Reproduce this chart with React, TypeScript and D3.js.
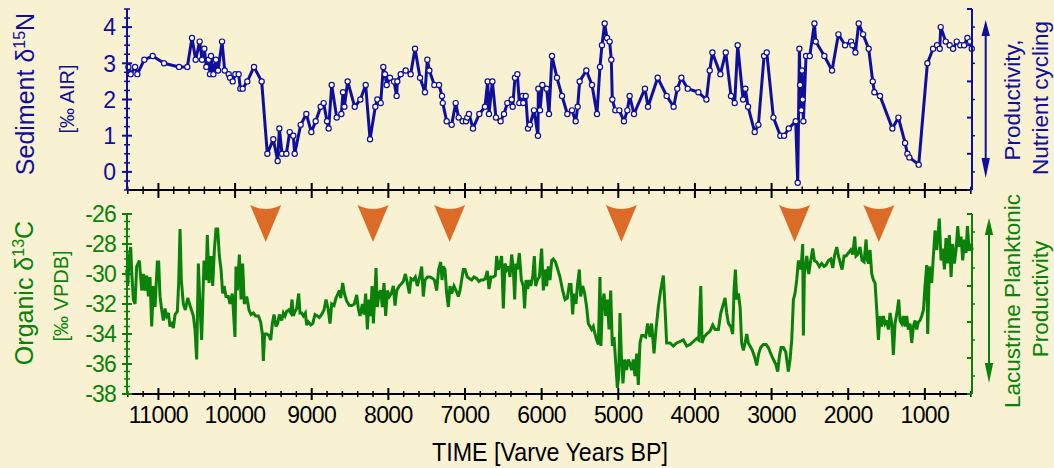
import React from 'react';
import * as d3 from 'd3';

// sediment d15N [permil AIR], [varve year BP, value]
const nitrogen: [number, number][] = [
  [11392, 2.9], [11362, 2.7], [11305, 2.9], [11275, 2.7], [11184, 3.1], [11075, 3.2], [10927, 3.0], [10731, 2.9],
  [10623, 2.9], [10562, 3.7], [10514, 3.1], [10462, 3.6], [10431, 3.1], [10401, 3.4], [10375, 2.9], [10344, 3.1],
  [10327, 2.7], [10314, 3.2], [10283, 2.7], [10249, 3.1], [10222, 2.8], [10170, 3.6], [10135, 2.8], [10083, 2.7],
  [10066, 2.6], [10031, 2.5], [9996, 2.7], [9953, 2.7], [9931, 2.3], [9901, 2.3], [9840, 2.5], [9753, 2.9],
  [9653, 2.5], [9579, 0.5], [9501, 0.9], [9444, 0.3], [9422, 1.2], [9387, 0.5], [9331, 0.5], [9287, 1.1],
  [9240, 1.0], [9222, 0.5], [9144, 1.3], [9070, 1.6], [9005, 1.1], [8948, 1.4], [8883, 1.8], [8844, 1.9],
  [8800, 1.4], [8779, 1.2], [8739, 2.4], [8674, 1.5], [8613, 1.6], [8592, 2.2], [8574, 1.8], [8531, 2.5],
  [8439, 1.8], [8365, 2.0], [8296, 2.4], [8239, 0.9], [8170, 1.8], [8144, 2.0], [8100, 1.9], [8066, 2.9],
  [8044, 2.7], [8022, 2.4], [7979, 2.6], [7926, 2.5], [7892, 2.1], [7883, 2.5], [7839, 2.7], [7774, 2.8],
  [7709, 2.7], [7652, 3.4], [7587, 2.6], [7522, 2.2], [7491, 3.1], [7465, 2.8], [7400, 2.4], [7339, 2.4],
  [7300, 2.1], [7290, 1.9], [7239, 1.4], [7174, 1.3], [7122, 1.9], [7083, 1.5], [7030, 1.4], [6987, 1.4],
  [6970, 1.5], [6948, 1.6], [6896, 1.2], [6813, 1.6], [6739, 1.8], [6704, 2.5], [6687, 1.6], [6643, 2.5],
  [6596, 1.5], [6535, 1.4], [6491, 1.6], [6448, 1.9], [6391, 2.0], [6378, 1.8], [6348, 2.6], [6317, 2.7],
  [6291, 1.9], [6250, 2.1], [6240, 1.9], [6208, 2.1], [6178, 1.2], [6152, 1.3], [6100, 1.7], [6048, 1.0],
  [6043, 2.3], [6021, 1.7], [5991, 2.4], [5935, 2.3], [5904, 1.6], [5865, 3.2], [5800, 2.6], [5734, 2.1],
  [5665, 1.6], [5604, 1.7], [5556, 1.4], [5530, 1.8], [5504, 2.5], [5417, 2.8], [5343, 2.4], [5278, 1.6],
  [5239, 2.9], [5213, 3.5], [5178, 4.1], [5147, 3.7], [5113, 3.6], [5091, 3.1], [5078, 2.0], [5039, 1.7],
  [4986, 1.7], [4926, 1.4], [4882, 1.7], [4852, 2.1], [4795, 1.6], [4652, 2.3], [4612, 1.8], [4486, 2.6],
  [4369, 2.1], [4278, 1.8], [4230, 2.3], [4177, 2.6], [4094, 2.3], [3955, 2.2], [3850, 2.0], [3807, 2.8],
  [3772, 3.3], [3668, 2.7], [3598, 3.3], [3529, 2.1], [3481, 1.9], [3442, 3.5], [3372, 2.0], [3342, 2.3],
  [3307, 1.8], [3220, 1.1], [3172, 1.3], [3098, 3.2], [3063, 3.3], [2976, 1.5], [2885, 1.0], [2837, 1.0],
  [2776, 1.2], [2685, 1.4], [2659, -0.3], [2637, 3.4], [2628, 2.4], [2611, 1.7], [2602, 2.8], [2594, 2.0],
  [2585, 1.4], [2550, 3.2], [2502, 3.2], [2441, 4.1], [2424, 3.6], [2311, 3.2], [2211, 2.8], [2128, 3.8],
  [2041, 3.5], [1963, 3.6], [1946, 3.5], [1906, 3.3], [1863, 4.1], [1806, 3.8], [1733, 3.4], [1680, 2.5],
  [1659, 2.2], [1585, 2.1], [1424, 1.2], [1345, 1.5], [1258, 0.8], [1228, 0.5], [1202, 0.4], [1080, 0.2],
  [967, 3.0], [893, 3.4], [841, 3.5], [806, 3.4], [793, 4.0], [728, 3.6], [676, 3.5], [632, 3.4],
  [584, 3.6], [537, 3.5], [489, 3.5], [445, 3.7], [411, 3.6], [388, 3.4],
];

// organic d13C [permil VPDB], [varve year BP, value]
const carbon: [number, number][] = [
  [11414, -29.7], [11401, -30.8], [11379, -28.8], [11362, -28.2], [11345, -30.2], [11327, -31.7], [11305, -32.0],
  [11284, -29.5], [11249, -29.1], [11218, -31.1], [11197, -30.0], [11175, -31.1], [11153, -30.1], [11131, -31.5],
  [11110, -30.2], [11088, -33.5], [11066, -30.8], [11044, -32.2], [11014, -29.2], [10997, -29.2], [10979, -31.5],
  [10957, -32.4], [10936, -33.1], [10914, -32.3], [10892, -32.8], [10870, -32.6], [10849, -33.5], [10827, -33.2],
  [10805, -33.6], [10783, -32.7], [10753, -32.5], [10736, -30.6], [10718, -27.0], [10701, -30.4], [10675, -32.0],
  [10649, -32.4], [10618, -31.6], [10588, -32.1], [10544, -32.8], [10523, -33.7], [10501, -35.7], [10479, -29.3],
  [10457, -32.2], [10436, -34.4], [10405, -29.1], [10379, -30.4], [10362, -27.4], [10340, -30.6], [10314, -28.8],
  [10292, -30.8], [10270, -28.4], [10249, -27.0], [10227, -27.0], [10205, -28.8], [10183, -29.7], [10162, -31.3],
  [10144, -30.8], [10118, -31.5], [10088, -31.5], [10066, -32.0], [10036, -31.3], [10018, -32.8], [10001, -34.2],
  [9988, -29.5], [9970, -31.1], [9944, -28.7], [9922, -31.7], [9901, -29.3], [9879, -32.0], [9848, -31.5],
  [9818, -32.4], [9792, -32.7], [9761, -32.6], [9731, -32.8], [9696, -32.8], [9666, -33.2], [9644, -34.0],
  [9631, -35.8], [9614, -34.0], [9587, -34.0], [9557, -34.1], [9535, -34.4], [9514, -33.3], [9492, -32.7],
  [9466, -33.5], [9444, -33.3], [9422, -32.7], [9392, -33.1], [9370, -32.6], [9348, -32.8], [9327, -32.5],
  [9300, -32.4], [9274, -32.6], [9257, -31.7], [9240, -32.8], [9218, -32.5], [9196, -32.3], [9170, -31.3],
  [9153, -32.6], [9131, -32.6], [9109, -32.8], [9083, -32.6], [9066, -33.4], [9044, -33.2], [9013, -33.4],
  [8987, -33.3], [8957, -32.7], [8926, -32.8], [8900, -32.9], [8870, -32.7], [8840, -32.4], [8813, -31.7],
  [8787, -32.3], [8761, -33.3], [8739, -32.0], [8709, -32.1], [8683, -31.6], [8657, -31.3], [8639, -31.1],
  [8622, -31.6], [8596, -30.6], [8574, -31.3], [8544, -31.8], [8509, -32.1], [8479, -32.1], [8444, -32.0],
  [8413, -31.4], [8392, -32.3], [8370, -32.8], [8339, -32.0], [8318, -32.7], [8296, -31.3], [8274, -33.7],
  [8252, -31.7], [8231, -32.8], [8213, -30.8], [8196, -33.3], [8178, -31.7], [8161, -29.6], [8144, -32.2],
  [8122, -31.3], [8100, -31.1], [8078, -32.2], [8057, -30.6], [8035, -32.8], [8013, -31.1], [7987, -31.5],
  [7961, -31.3], [7935, -30.8], [7913, -32.1], [7891, -31.1], [7857, -30.8], [7839, -30.7], [7805, -30.5],
  [7778, -30.0], [7752, -30.6], [7726, -31.3], [7705, -30.3], [7674, -30.4], [7648, -30.2], [7622, -30.8],
  [7596, -30.3], [7565, -29.5], [7544, -31.5], [7522, -30.4], [7491, -30.2], [7457, -30.2], [7422, -30.3],
  [7400, -30.4], [7370, -31.1], [7344, -29.7], [7317, -29.2], [7300, -30.4], [7283, -29.5], [7261, -29.7],
  [7239, -31.3], [7217, -32.2], [7196, -30.8], [7174, -31.3], [7144, -30.8], [7117, -31.1], [7087, -31.5],
  [7065, -31.1], [7044, -30.4], [7022, -29.7], [7000, -29.7], [6970, -30.2], [6943, -30.3], [6913, -30.4],
  [6883, -30.2], [6848, -30.3], [6817, -30.5], [6791, -30.4], [6761, -30.4], [6735, -30.3], [6709, -29.8],
  [6687, -31.0], [6661, -30.2], [6630, -30.2], [6604, -30.1], [6587, -28.8], [6565, -29.7], [6543, -29.3],
  [6522, -28.8], [6500, -32.3], [6478, -29.3], [6456, -29.7], [6435, -29.5], [6413, -30.2], [6391, -28.7],
  [6369, -29.7], [6352, -31.7], [6335, -29.3], [6317, -29.7], [6291, -28.6], [6265, -30.4], [6239, -30.8],
  [6222, -32.3], [6204, -30.4], [6182, -31.0], [6161, -30.4], [6143, -30.8], [6117, -30.2], [6095, -28.8],
  [6078, -30.8], [6056, -30.4], [6030, -30.2], [6000, -28.3], [5978, -31.1], [5956, -29.7], [5935, -30.8],
  [5913, -29.5], [5891, -30.4], [5869, -29.1], [5848, -29.0], [5821, -29.2], [5795, -29.6], [5761, -30.2],
  [5726, -31.1], [5695, -31.7], [5665, -31.6], [5639, -30.7], [5617, -30.7], [5595, -32.7], [5578, -31.3],
  [5552, -32.0], [5534, -30.8], [5508, -29.7], [5491, -31.5], [5465, -30.8], [5439, -31.3], [5413, -32.2],
  [5391, -33.3], [5369, -33.5], [5347, -33.7], [5326, -33.5], [5304, -34.0], [5282, -34.4], [5260, -34.7],
  [5239, -30.2], [5226, -34.8], [5208, -32.0], [5186, -31.3], [5165, -32.8], [5143, -31.7], [5121, -33.7],
  [5099, -31.1], [5078, -34.8], [5056, -34.2], [5034, -35.9], [5012, -37.6], [4995, -36.8], [4978, -32.6],
  [4960, -35.5], [4939, -37.3], [4917, -35.7], [4891, -36.4], [4869, -35.7], [4847, -36.0], [4826, -36.4],
  [4804, -35.7], [4782, -36.8], [4760, -35.3], [4739, -37.4], [4717, -34.6], [4695, -34.1], [4673, -34.1],
  [4643, -34.2], [4617, -33.3], [4586, -34.2], [4565, -33.3], [4534, -35.3], [4508, -33.7], [4478, -32.2],
  [4447, -31.1], [4412, -30.1], [4391, -32.2], [4369, -34.6], [4325, -34.6], [4282, -34.8], [4238, -34.6],
  [4195, -34.5], [4151, -34.4], [4107, -34.8], [4064, -34.7], [4020, -34.5], [3977, -34.3], [3951, -34.4],
  [3924, -30.8], [3907, -34.6], [3881, -34.2], [3846, -34.0], [3803, -33.8], [3768, -33.4], [3737, -33.7],
  [3694, -33.7], [3663, -32.6], [3629, -32.0], [3607, -31.6], [3585, -32.6], [3563, -33.3], [3533, -33.5],
  [3507, -34.0], [3490, -31.1], [3472, -29.7], [3455, -31.7], [3433, -31.3], [3411, -32.2], [3390, -34.6],
  [3368, -35.1], [3346, -34.6], [3324, -34.0], [3303, -34.6], [3281, -34.8], [3250, -35.1], [3224, -35.5],
  [3194, -36.1], [3168, -35.3], [3142, -34.9], [3107, -34.7], [3072, -34.7], [3042, -34.9], [3011, -35.3],
  [2976, -35.7], [2946, -36.0], [2920, -36.5], [2898, -35.5], [2876, -34.9], [2846, -34.9], [2815, -35.2],
  [2781, -36.5], [2759, -35.7], [2737, -34.4], [2715, -31.7], [2694, -31.3], [2672, -30.4], [2650, -29.1],
  [2628, -29.7], [2611, -29.3], [2594, -28.0], [2585, -34.1], [2572, -30.0], [2541, -28.8], [2515, -30.0],
  [2489, -29.1], [2463, -28.3], [2441, -29.1], [2411, -29.2], [2376, -29.5], [2346, -29.3], [2315, -29.5],
  [2289, -29.4], [2259, -29.1], [2228, -29.0], [2202, -29.6], [2180, -28.8], [2150, -28.2], [2128, -28.8],
  [2107, -29.2], [2080, -29.7], [2054, -28.8], [2028, -28.8], [1998, -28.6], [1967, -28.4], [1941, -28.7],
  [1915, -27.5], [1898, -28.8], [1876, -28.7], [1846, -28.2], [1819, -29.1], [1793, -29.2], [1767, -27.7],
  [1750, -29.1], [1733, -29.3], [1715, -28.4], [1693, -30.0], [1672, -30.4], [1650, -30.6], [1628, -32.4],
  [1606, -34.4], [1585, -32.8], [1563, -33.5], [1541, -32.8], [1519, -33.3], [1498, -33.1], [1476, -33.7],
  [1454, -32.6], [1432, -33.3], [1411, -35.4], [1389, -33.3], [1359, -32.4], [1341, -31.7], [1324, -33.1],
  [1302, -33.3], [1280, -32.8], [1259, -33.5], [1237, -32.8], [1215, -33.7], [1193, -33.3], [1172, -34.6],
  [1150, -33.5], [1128, -33.1], [1106, -33.7], [1085, -33.2], [1063, -33.1], [1041, -32.8], [1019, -32.4],
  [998, -30.8], [976, -29.4], [963, -34.0], [941, -29.5], [911, -30.6], [889, -28.8], [867, -27.1],
  [845, -28.4], [811, -26.3], [789, -29.1], [767, -28.3], [745, -29.7], [724, -27.6], [702, -29.3],
  [680, -27.4], [658, -30.2], [637, -28.0], [615, -29.3], [593, -28.4], [571, -26.8], [550, -28.2],
  [528, -27.5], [506, -29.1], [484, -27.7], [463, -28.6], [445, -26.8], [423, -28.4], [402, -28.0],
  [380, -28.4],
];

const eventYears = [9600, 8200, 7200, 4960, 2700, 1600];
const yearTicks = [11000, 10000, 9000, 8000, 7000, 6000, 5000, 4000, 3000, 2000, 1000];
const nitrogenTicks = [0, 1, 2, 3, 4];
const carbonTicks = [-26, -28, -30, -32, -34, -36, -38];

const BG = '#f8f2d2';
const BLUE = '#0f0f9e';
const GREEN = '#0a820a';
const ORANGE = '#dc6b27';
const FONT = '"Liberation Sans", Arial, sans-serif';

export default function App() {
  const x = d3.scaleLinear().domain([11410, 385]).range([127, 972]);
  const yN = d3.scaleLinear().domain([-0.5, 4.5]).range([190, 9]);
  const yC = d3.scaleLinear().domain([-38, -26]).range([394, 214]);
  const rN = d3.scaleLinear().domain([0, 10]).range([190, 9]);
  const rC = d3.scaleLinear().domain([0, 10]).range([394, 214]);

  const lineN = d3.line<[number, number]>().x(d => x(d[0])).y(d => yN(d[1]));
  const lineC = d3.line<[number, number]>().x(d => x(d[0])).y(d => yC(d[1]));

  const minorYears = d3.range(400, 11401, 200).filter(v => v % 1000 !== 0);
  const minorN = d3.range(-0.5, 4.51, 0.25).filter(v => Math.abs(v - Math.round(v)) > 0.01);
  const minorC = d3.range(-38, -25.9, 0.5).filter(v => Math.abs(v / 2 - Math.round(v / 2)) > 0.01);
  const rightTicks = d3.range(0, 11);

  return (
    <svg width={1054} height={468} style={{ position: 'fixed', left: 0, top: 0, display: 'block' }} fontFamily={FONT}>
      <rect width={1054} height={468} fill={BG} />

      {/* orange event markers */}
      {eventYears.map(e => {
        const cx = x(e);
        return <path key={e} d={`M${cx - 15.5},205 Q${cx},213 ${cx + 15.5},205 L${cx},242 Z`} fill={ORANGE} />;
      })}

      {/* data */}
      <path d={lineC(carbon) || ''} fill="none" stroke={GREEN} strokeWidth={3} strokeLinejoin="miter" strokeMiterlimit={3} />
      <path d={lineN(nitrogen) || ''} fill="none" stroke={BLUE} strokeWidth={3} strokeLinejoin="round" />
      {nitrogen.map((d, i) => (
        <circle key={i} cx={x(d[0])} cy={yN(d[1])} r={2.6} fill="#fff" stroke={BLUE} strokeWidth={1.2} />
      ))}

      {/* time axes */}
      <line x1={127} x2={972} y1={190} y2={190} stroke="#000" strokeWidth={2} />
      <line x1={127} x2={972} y1={394} y2={394} stroke="#000" strokeWidth={2} />
      {yearTicks.map(t => (
        <g key={t}>
          <line x1={x(t)} x2={x(t)} y1={183} y2={198} stroke="#000" strokeWidth={2} />
          <line x1={x(t)} x2={x(t)} y1={388} y2={400} stroke="#000" strokeWidth={2} />
          <text x={x(t)} y={423} textAnchor="middle" fontSize={23} letterSpacing={-0.6} fill="#000">{t}</text>
        </g>
      ))}
      {minorYears.map(t => (
        <g key={t}>
          <line x1={x(t)} x2={x(t)} y1={186.5} y2={194} stroke="#000" strokeWidth={1.5} />
          <line x1={x(t)} x2={x(t)} y1={391} y2={397} stroke="#000" strokeWidth={1.5} />
        </g>
      ))}
      <text x={550} y={461} textAnchor="middle" fontSize={25} textLength={236} lengthAdjust="spacingAndGlyphs" fill="#000">
        TIME [Varve Years BP]
      </text>

      {/* left axis, d15N */}
      <line x1={127} x2={127} y1={9} y2={190} stroke={BLUE} strokeWidth={2} />
      {nitrogenTicks.map(t => (
        <g key={t}>
          <line x1={122} x2={132} y1={yN(t)} y2={yN(t)} stroke={BLUE} strokeWidth={2} />
          <text x={116} y={yN(t)} dy="0.36em" textAnchor="end" fontSize={23} fill={BLUE}>{t}</text>
        </g>
      ))}
      {minorN.map(t => (
        <line key={t} x1={124} x2={130} y1={yN(t)} y2={yN(t)} stroke={BLUE} strokeWidth={1.5} />
      ))}

      {/* left axis, d13C */}
      <line x1={127} x2={127} y1={214} y2={394} stroke={GREEN} strokeWidth={2} />
      {carbonTicks.map(t => (
        <g key={t}>
          <line x1={122} x2={132} y1={yC(t)} y2={yC(t)} stroke={GREEN} strokeWidth={2} />
          <text x={116} y={yC(t)} dy="0.36em" textAnchor="end" fontSize={23} letterSpacing={-0.8} fill={GREEN}>{t}</text>
        </g>
      ))}
      {minorC.map(t => (
        <line key={t} x1={124} x2={130} y1={yC(t)} y2={yC(t)} stroke={GREEN} strokeWidth={1.5} />
      ))}

      {/* right axes */}
      <line x1={972} x2={972} y1={9} y2={190} stroke={BLUE} strokeWidth={2} />
      <line x1={972} x2={972} y1={214} y2={394} stroke={GREEN} strokeWidth={2} />
      {rightTicks.map(t => (
        <g key={t}>
          {t % 2 === 0 ? (
            <>
              <line x1={967} x2={972} y1={rN(t)} y2={rN(t)} stroke={BLUE} strokeWidth={2} />
              <line x1={967} x2={972} y1={rC(t)} y2={rC(t)} stroke={GREEN} strokeWidth={2} />
            </>
          ) : (
            <>
              <line x1={972} x2={975} y1={rN(t)} y2={rN(t)} stroke={BLUE} strokeWidth={1.5} />
              <line x1={972} x2={975} y1={rC(t)} y2={rC(t)} stroke={GREEN} strokeWidth={1.5} />
            </>
          )}
        </g>
      ))}

      {/* axis titles */}
      <text transform="translate(34,94) rotate(-90)" textAnchor="middle" fontSize={25} fill={BLUE}>
        Sediment δ<tspan dy={-9} fontSize={16}>15</tspan><tspan dy={9}>N</tspan>
      </text>
      <text transform="translate(74,99) rotate(-90)" textAnchor="middle" fontSize={20} fill={BLUE}>[‰ AIR]</text>
      <text transform="translate(33,293) rotate(-90)" textAnchor="middle" fontSize={25} fill={GREEN}>
        Organic δ<tspan dy={-9} fontSize={16}>13</tspan><tspan dy={9}>C</tspan>
      </text>
      <text transform="translate(68,296) rotate(-90)" textAnchor="middle" fontSize={20} fill={GREEN}>[‰ VPDB]</text>

      {/* right annotations */}
      <line x1={985.7} x2={985.7} y1={30} y2={168} stroke={BLUE} strokeWidth={2} />
      <path d="M985.7,20 L981.5,36 L989.9,36 Z" fill={BLUE} />
      <path d="M985.7,178 L981.5,158 L989.9,158 Z" fill={BLUE} />
      <text transform="translate(1020,100) rotate(-90)" textAnchor="middle" fontSize={22.5} fill={BLUE}>Productivity,</text>
      <text transform="translate(1048,98) rotate(-90)" textAnchor="middle" fontSize={22.5} fill={BLUE}>Nutrient cycling</text>

      <line x1={989} x2={989} y1={228} y2={373} stroke={GREEN} strokeWidth={2} />
      <path d="M989,218 L984.8,235 L993.2,235 Z" fill={GREEN} />
      <path d="M989,383 L984.8,363 L993.2,363 Z" fill={GREEN} />
      <text transform="translate(1020,301) rotate(-90)" textAnchor="middle" fontSize={22.5} fill={GREEN}>Lacustrine Planktonic</text>
      <text transform="translate(1048,299) rotate(-90)" textAnchor="middle" fontSize={22.5} fill={GREEN}>Productivity</text>
    </svg>
  );
}
